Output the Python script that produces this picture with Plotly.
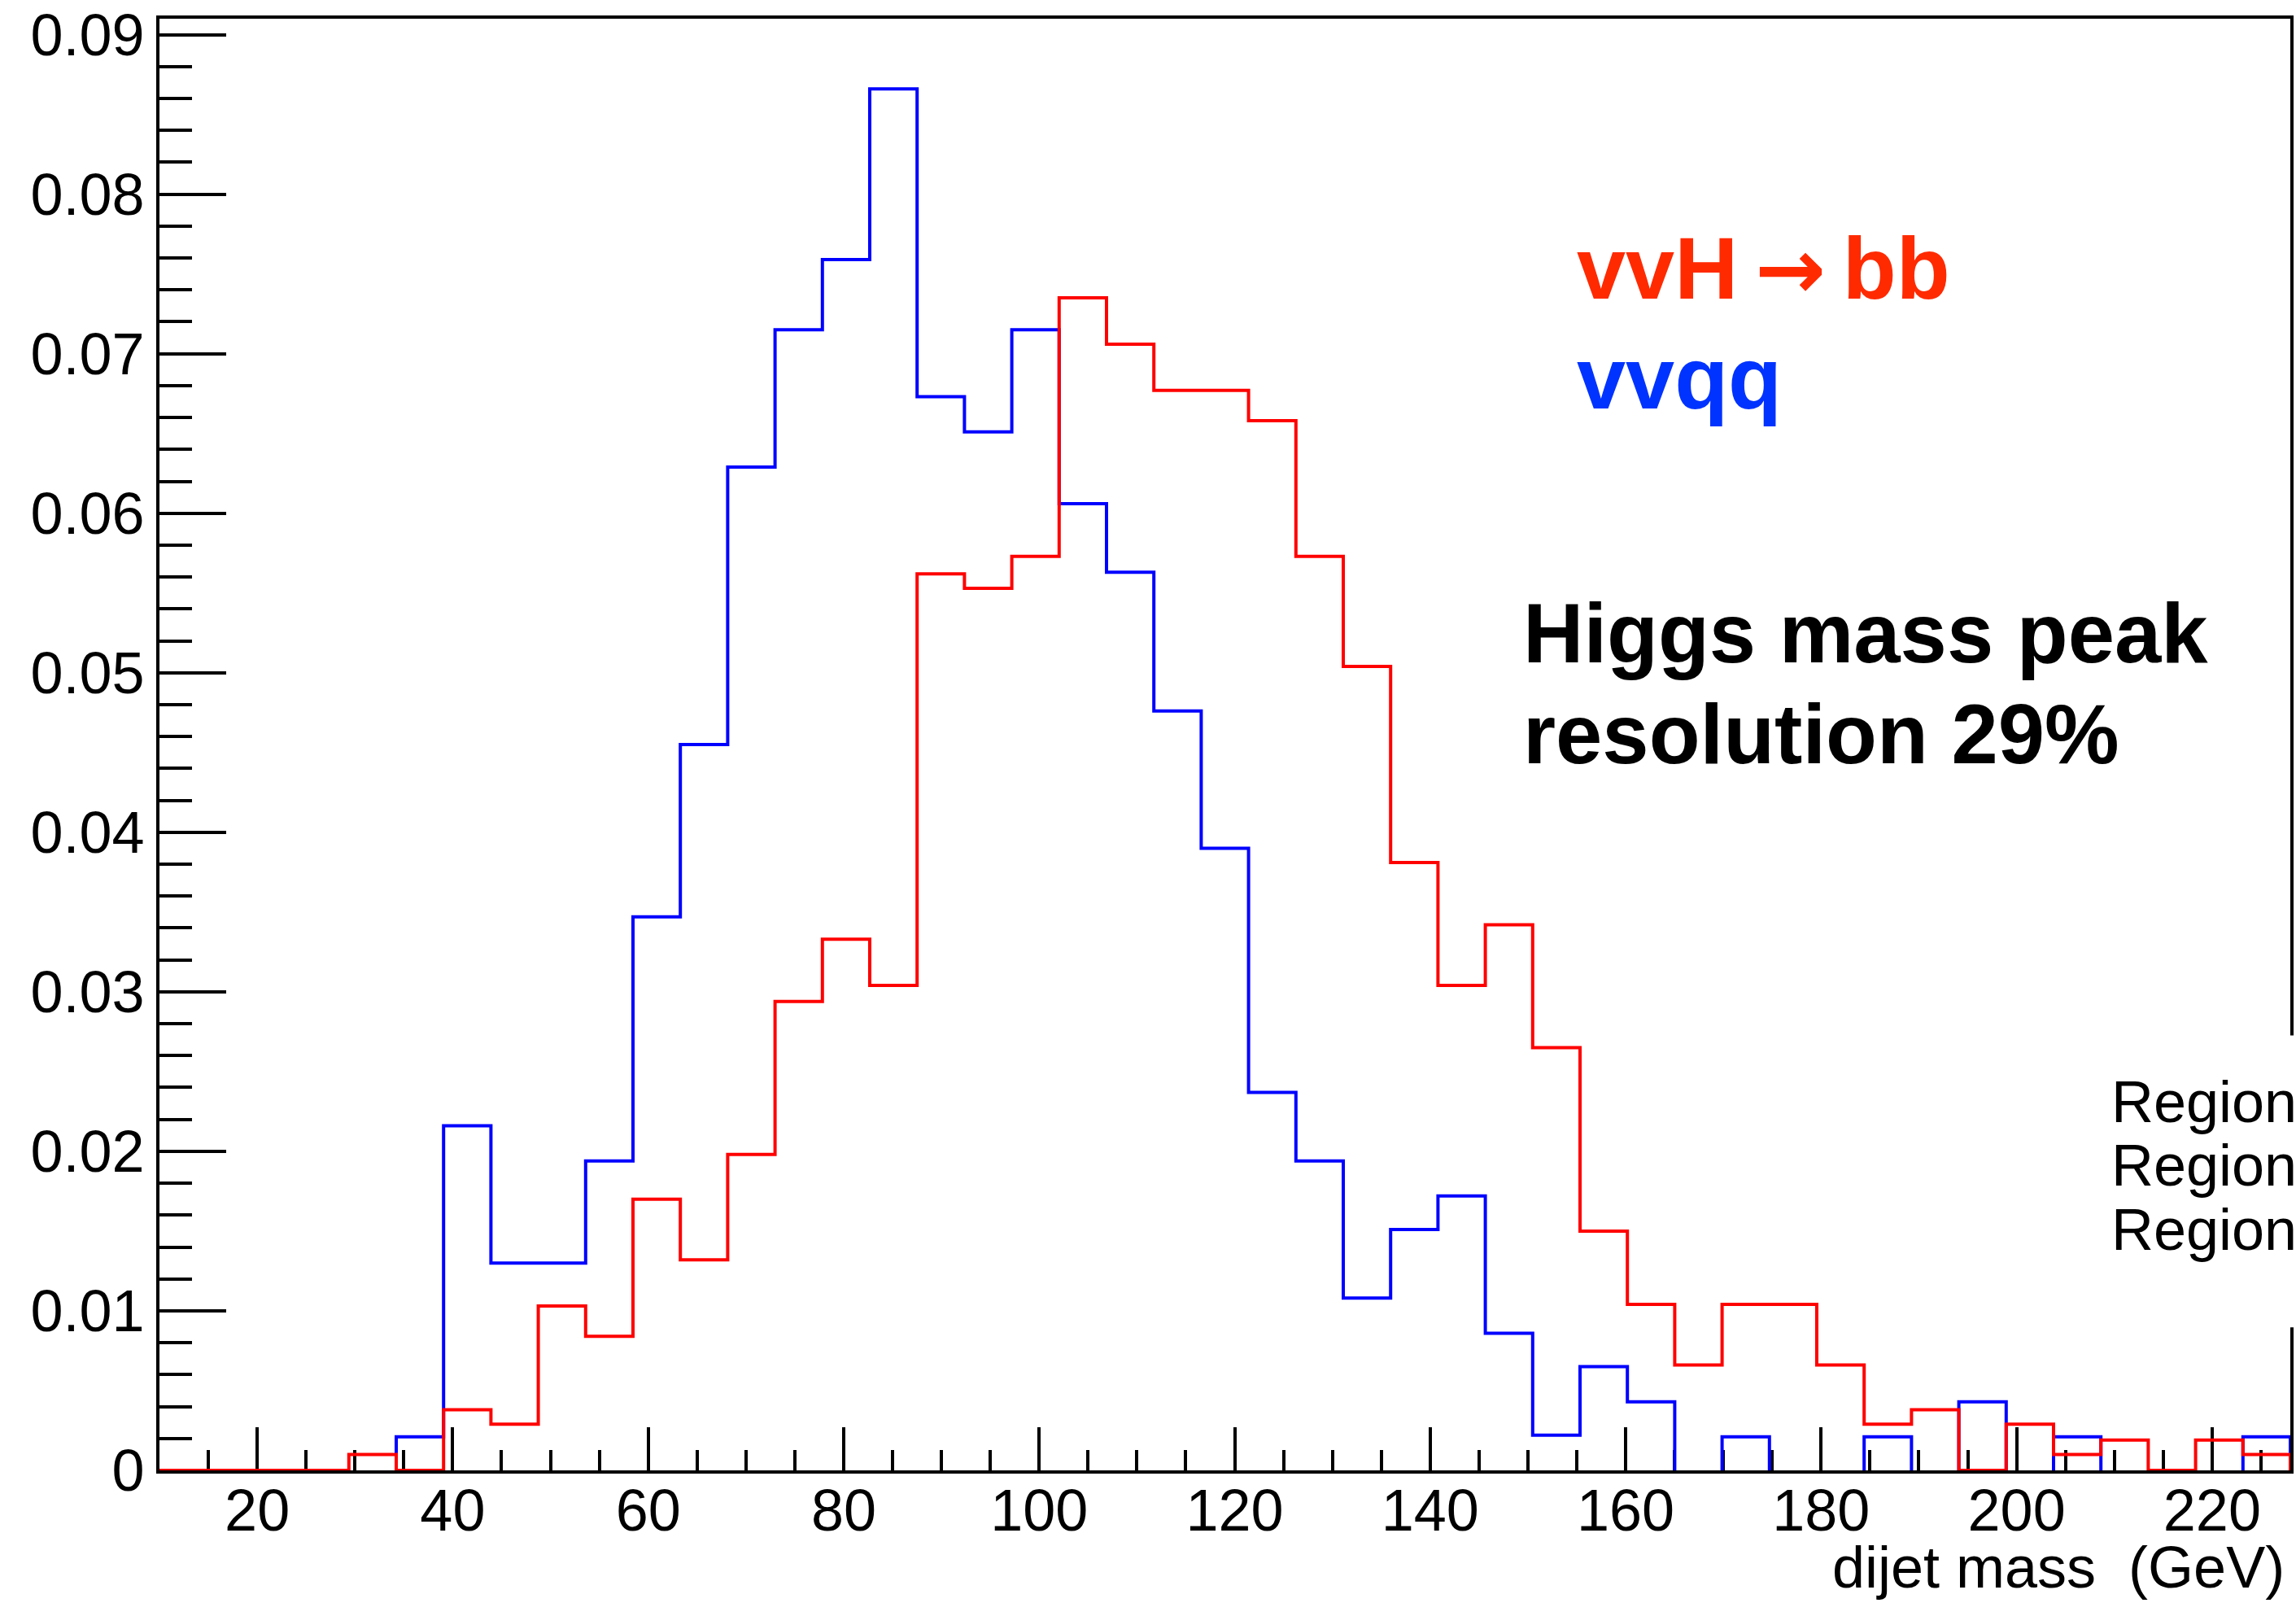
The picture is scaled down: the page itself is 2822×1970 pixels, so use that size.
import plotly.graph_objects as go

# ---- data ----
x_min, x_max, n_bins = 10.0, 228.0, 45
bin_edges = [x_min + (x_max - x_min) * i / n_bins for i in range(n_bins + 1)]

vvqq_values = [
    0, 0, 0, 0, 0, 0.0021, 0.0216, 0.0130, 0.0130, 0.0194,
    0.0347, 0.0455, 0.0629, 0.0715, 0.0759, 0.0866, 0.0673, 0.0651, 0.0715, 0.0606,
    0.0563, 0.0476, 0.0390, 0.0237, 0.0194, 0.0108, 0.0151, 0.0172, 0.0086, 0.0022,
    0.0065, 0.0043, 0, 0.0021, 0, 0, 0.0021, 0, 0.0043, 0,
    0.0021, 0, 0, 0, 0.0021,
]
vvhbb_values = [
    0, 0, 0, 0, 0.0010, 0, 0.0038, 0.0029, 0.0103, 0.0084,
    0.0170, 0.0132, 0.0198, 0.0294, 0.0333, 0.0304, 0.0562, 0.0553, 0.0573, 0.0735,
    0.0706, 0.0677, 0.0677, 0.0658, 0.0573, 0.0504, 0.0381, 0.0304, 0.0342, 0.0265,
    0.0150, 0.0104, 0.0066, 0.0104, 0.0104, 0.0066, 0.0029, 0.0038, 0, 0.0029,
    0.0010, 0.0019, 0, 0.0019, 0.0010,
]

y_ticks = [0, 0.01, 0.02, 0.03, 0.04, 0.05, 0.06, 0.07, 0.08, 0.09]
y_tick_labels = ["0", "0.01", "0.02", "0.03", "0.04", "0.05", "0.06", "0.07", "0.08", "0.09"]
x_ticks = [20, 40, 60, 80, 100, 120, 140, 160, 180, 200, 220]
x_tick_labels = [str(v) for v in x_ticks]


def step_path(edges, vals, skip_zero):
    xs, ys = [], []
    prev = 0
    for i, v in enumerate(vals):
        x0, x1 = edges[i], edges[i + 1]
        if skip_zero and v == 0:
            if prev != 0:
                xs += [x0, None]
                ys += [0, None]
            prev = 0
            continue
        xs += [x0, x0, x1]
        ys += [prev, v, v]
        prev = v
    xs.append(edges[-1])
    ys.append(0)
    return xs, ys


FONT = "Liberation Sans, Arial, Helvetica, sans-serif"
W, H = 2822, 1970
L, R, T, B = 196, 3, 21, 163

fig = go.Figure()
bx, by = step_path(bin_edges, vvqq_values, True)
fig.add_trace(go.Scatter(x=bx, y=by, mode="lines", line=dict(color="#0000ff", width=4),
                         connectgaps=False, hoverinfo="skip"))
rx, ry = step_path(bin_edges, vvhbb_values, False)
fig.add_trace(go.Scatter(x=rx, y=ry, mode="lines", line=dict(color="#ff0000", width=4),
                         hoverinfo="skip"))

fig.update_layout(
    width=W, height=H,
    margin=dict(l=L, r=R, t=T, b=B, pad=0),
    paper_bgcolor="white", plot_bgcolor="white",
    showlegend=False,
    font=dict(family=FONT, color="black", size=72),
)
fig.update_xaxes(
    range=[x_min, x_max], showgrid=False, zeroline=False,
    showline=True, linecolor="black", linewidth=4, mirror=True,
    ticks="inside", ticklen=53, tickwidth=4, tickcolor="black",
    tickvals=x_ticks, ticktext=x_tick_labels,
    tickfont=dict(size=72, family=FONT, color="black"),
    ticklabelstandoff=-16,
    minor=dict(ticks="inside", ticklen=25, tickwidth=4, tickcolor="black", dtick=5, tick0=0, showgrid=False),
    layer="below traces",
)
fig.update_yaxes(
    range=[0, 0.091], showgrid=False, zeroline=False,
    showline=True, linecolor="black", linewidth=4, mirror=True,
    ticks="inside", ticklen=82, tickwidth=4, tickcolor="black",
    tickvals=y_ticks, ticktext=y_tick_labels,
    tickfont=dict(size=72, family=FONT, color="black"),
    minor=dict(ticks="inside", ticklen=40, tickwidth=4, tickcolor="black", dtick=0.002, tick0=0, showgrid=False),
    layer="below traces",
)

pw = W - L - R
ph = H - T - B


def px(xp):
    return (xp - L) / pw


def py(yp):
    return (H - B - yp) / ph


# white box hiding the frame behind the "Region" text
fig.add_shape(type="rect", xref="paper", yref="paper",
              x0=px(2585), x1=px(2830), y0=py(1631), y1=py(1272),
              fillcolor="white", line=dict(width=0), layer="above")

arrow = '<span style="font-family:DejaVu Sans;font-size:104px">\u2009\u2192\u2009</span>'
annots = [
    dict(text="<b>vvH" + arrow + "bb</b>", x=px(1940), y=py(367 - 38), color="#ff2a00", size=108),
    dict(text="<b>vvqq</b>", x=px(1940), y=py(501 - 38), color="#0033ff", size=108),
    dict(text="<b>Higgs mass peak</b>", x=px(1874), y=py(813 - 36), color="black", size=103),
    dict(text="<b>resolution 29%</b>", x=px(1874), y=py(937 - 36), color="black", size=103),
    dict(text="Region", x=px(2598), y=py(1378 - 25), color="black", size=72),
    dict(text="Region", x=px(2598), y=py(1457 - 25), color="black", size=72),
    dict(text="Region", x=px(2598), y=py(1536 - 25), color="black", size=72),
]
for a in annots:
    fig.add_annotation(text=a["text"], xref="paper", yref="paper", x=a["x"], y=a["y"],
                       xanchor="left", yanchor="middle", showarrow=False, borderpad=0,
                       font=dict(family=FONT, size=a["size"], color=a["color"]))

fig.add_annotation(text="dijet mass\u00a0 (GeV)", xref="paper", yref="paper",
                   x=px(2813), y=py(1926), xanchor="right", yanchor="middle",
                   showarrow=False, borderpad=0,
                   font=dict(family=FONT, size=72, color="black"))

fig.write_html("out.html")
